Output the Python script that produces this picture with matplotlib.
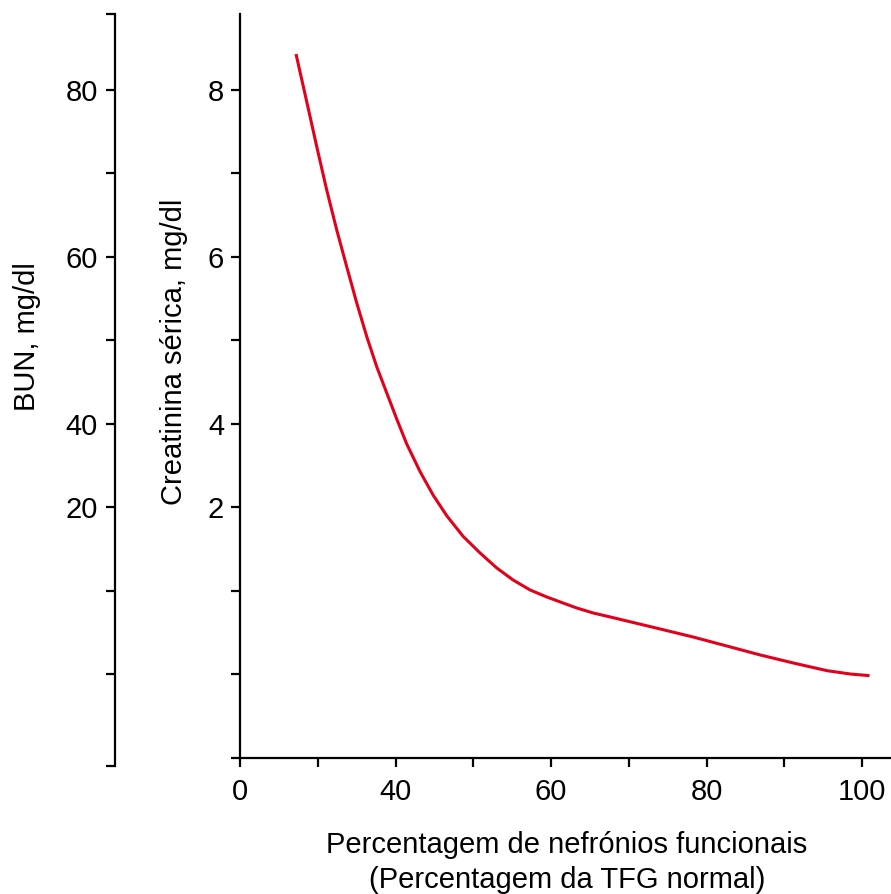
import matplotlib
matplotlib.use("Agg")
import matplotlib.pyplot as plt

plt.rcParams['font.family'] = ['Liberation Sans', 'DejaVu Sans']

# curve (x in % units, y in creatinine-axis tick units)
nefronios = [27.20, 28.58, 29.87, 31.15, 32.44, 33.72, 35.01, 36.30, 37.58,
             38.87, 40.15, 41.44, 43.15, 44.82, 46.59, 48.68, 50.87, 53.02,
             55.11, 57.30, 59.45, 61.54, 63.31, 65.40, 67.59, 69.74, 74.02,
             78.26, 82.60, 86.88, 91.13, 95.46, 98.46, 100.94]
creatinina = [8.431, 7.860, 7.321, 6.802, 6.323, 5.884, 5.449, 5.046, 4.686,
              4.371, 4.060, 3.760, 3.430, 3.150, 2.900, 2.655, 2.455, 2.275,
              2.132, 2.012, 1.928, 1.856, 1.796, 1.737, 1.689, 1.641, 1.545,
              1.449, 1.341, 1.234, 1.138, 1.046, 1.006, 0.986]

x_ticks = [20, 30, 40, 50, 60, 70, 80, 90, 100]
x_labels = ['0', '', '40', '', '60', '', '80', '', '100']
y_ticks = [0, 1, 2, 3, 4, 5, 6, 7, 8]
creat_labels = ['', '', '', '2', '4', '', '6', '', '8']
bun_labels = ['', '', '20', '40', '', '60', '', '80']

W, H = 891, 894
fs = 21
fig = plt.figure(figsize=(W / 100, H / 100), dpi=100)

ylo, yhi = 0, 8.91
ax = fig.add_axes([240 / W, (H - 758) / H, 1 - 240 / W, (758 - 14) / H])
ax.plot(nefronios, creatinina, color='#e3001b', lw=2.2,
        solid_joinstyle='round', solid_capstyle='butt')
ax.set_xlim(20, 103.7)
ax.set_ylim(ylo, yhi)
for s in ['top', 'right']:
    ax.spines[s].set_visible(False)
for s in ['left', 'bottom']:
    ax.spines[s].set_linewidth(1.6)
ax.set_xticks(x_ticks)
ax.set_xticklabels(x_labels)
ax.set_yticks(y_ticks)
ax.set_yticklabels(creat_labels)
ax.tick_params(axis='both', direction='out', length=6.5, width=1.6,
               labelsize=fs, colors='black')
ax.tick_params(axis='x', pad=8)
ax.tick_params(axis='y', pad=5)

# BUN axis on the far left
blo = -0.096
ax2 = fig.add_axes([115 / W, (H - 766) / H, 0.001, (766 - 14) / H])
ax2.set_ylim(blo, yhi)
ax2.patch.set_visible(False)
for s in ['top', 'right', 'bottom']:
    ax2.spines[s].set_visible(False)
ax2.spines['left'].set_linewidth(1.6)
ax2.set_xticks([])
ax2.set_yticks([blo] + y_ticks[1:] + [yhi])
ax2.set_yticklabels([''] + bun_labels + [''])
ax2.tick_params(axis='y', direction='out', length=6.5, width=1.6,
                labelsize=fs, pad=6)

fig.text(27 / W, 1 - 337 / H, 'BUN, mg/dl', rotation=90, fontsize=fs,
         ha='center', va='center')
fig.text(174 / W, 1 - 352 / H, 'Creatinina sérica, mg/dl', rotation=90,
         fontsize=fs, ha='center', va='center')
fig.text(567 / W, 1 - 845 / H, 'Percentagem de nefrónios funcionais',
         fontsize=fs, ha='center', va='center')
fig.text(567 / W, 1 - 880 / H, '(Percentagem da TFG normal)',
         fontsize=fs, ha='center', va='center')

fig.savefig('out.png', dpi=100)
